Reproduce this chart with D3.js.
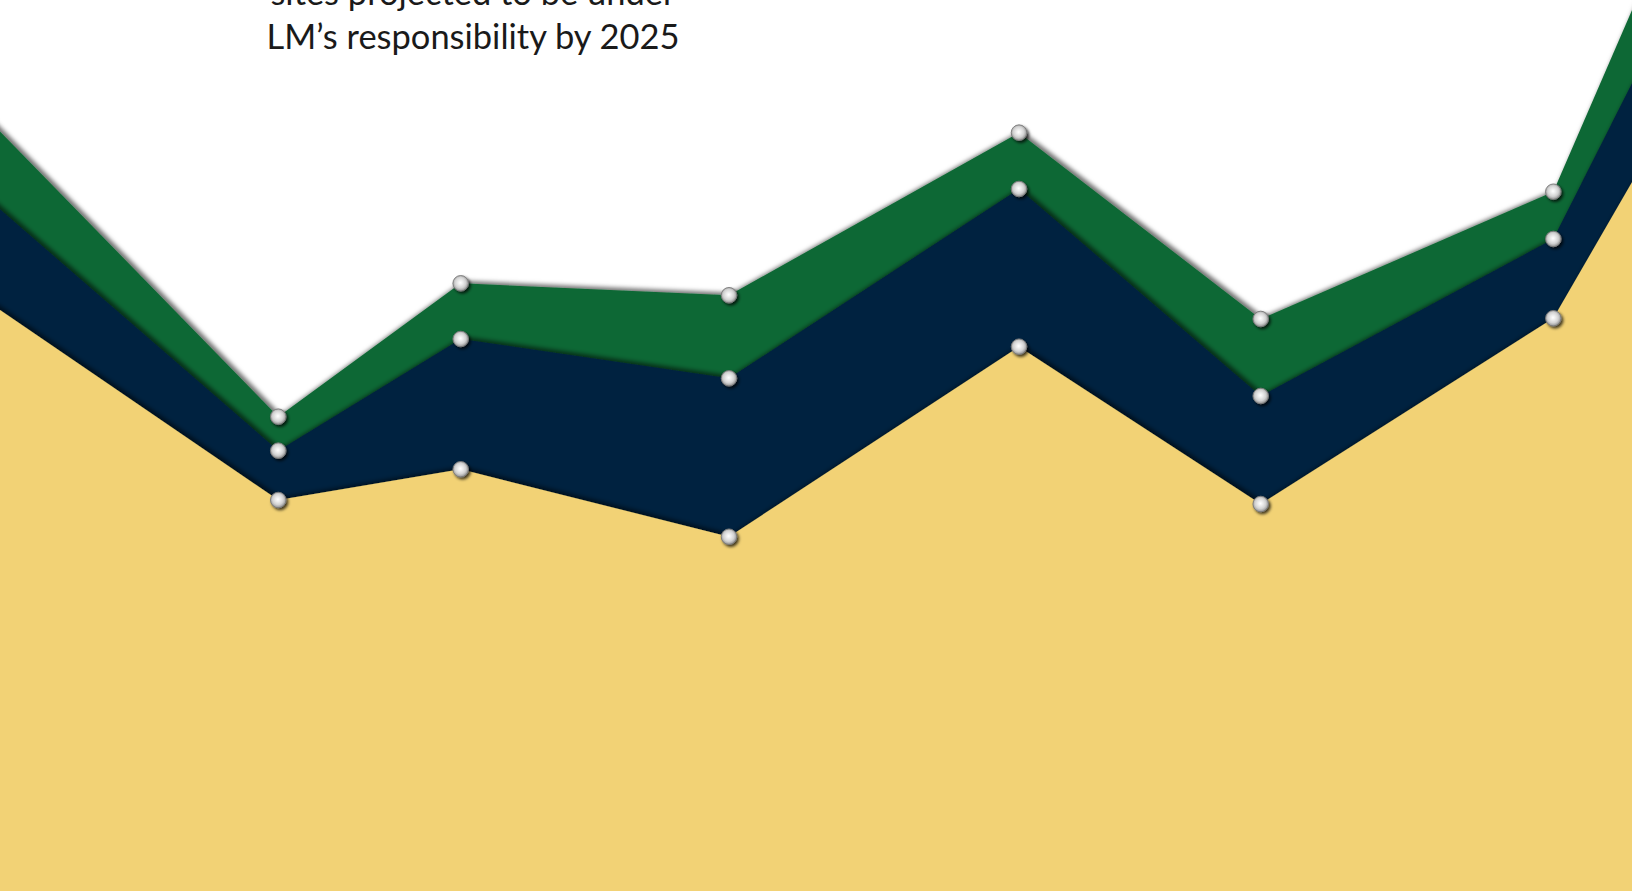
<!DOCTYPE html>
<html>
<head>
<meta charset="utf-8">
<script src="https://cdn.jsdelivr.net/npm/d3@7"></script>
<style>
  html, body { margin: 0; padding: 0; background: #ffffff; overflow: hidden; }
  svg { display: block; }
</style>
</head>
<body>
<svg id="chart"></svg>
<script>
// ---- data (first and last points lie just outside the visible crop) ----
const xPoints      = [-6.1, 17.05, 28.23, 44.67, 62.44, 77.25, 95.18, 104.17];
const baseValues   = [72.84, 43.88, 47.33, 39.76, 61.09, 43.43, 64.28, 92.76]; // gold layer
const middleValues = [13.35, 5.54, 14.62, 17.78, 17.70, 12.13, 8.90, 13.02];   // navy layer
const topValues    = [10.50, 3.81, 6.25, 9.32, 6.32, 8.64, 5.30, 10.72];       // green layer
const seriesKeys   = ["base", "middle", "top"];
const seriesColors = ["#f2d274", "#05223f", "#106735"];
const captionLines = ["sites projected to be under", "LM\u2019s responsibility by 2025"];

const W = 1632, H = 891;
const svg = d3.select("#chart").attr("width", W).attr("height", H);

const table = xPoints.map((x, i) => ({
  x, base: baseValues[i], middle: middleValues[i], top: topValues[i]
}));

const stack = d3.stack().keys(seriesKeys);
const layers = stack(table);

const x = d3.scaleLinear().domain([0, 100]).range([0, W]);
const y = d3.scaleLinear().domain([0, 100]).range([H, 0]);

const defs = svg.append("defs");

const areaShadow = defs.append("filter").attr("id", "areaShadow")
  .attr("x", "-10%").attr("y", "-10%").attr("width", "120%").attr("height", "120%");
areaShadow.append("feDropShadow")
  .attr("dx", 2.5).attr("dy", -2.5).attr("stdDeviation", 2.2)
  .attr("flood-color", "#000").attr("flood-opacity", 0.55);

const dotShadow = defs.append("filter").attr("id", "dotShadow")
  .attr("x", "-50%").attr("y", "-50%").attr("width", "200%").attr("height", "200%");
dotShadow.append("feDropShadow")
  .attr("dx", 1.8).attr("dy", 2).attr("stdDeviation", 1.4)
  .attr("flood-color", "#000").attr("flood-opacity", 0.75);

const grad = defs.append("radialGradient").attr("id", "dotGrad")
  .attr("cx", "48%").attr("cy", "46%").attr("r", "55%");
[["0%", "#ffffff"], ["30%", "#ebebeb"], ["62%", "#d2d2d2"], ["85%", "#a6a6a6"], ["100%", "#7c7c7c"]]
  .forEach(([o, c]) => grad.append("stop").attr("offset", o).attr("stop-color", c));

// Areas: each filled from its top line down to the bottom, drawn top layer first.
const area = d3.area()
  .x(d => x(d.data.x))
  .y0(H + 50)
  .y1(d => y(d[1]));

const order = [2, 1, 0];
svg.append("g").selectAll("path")
  .data(order.map(i => layers[i]))
  .join("path")
  .attr("d", area)
  .attr("fill", d => seriesColors[d.index])
  .attr("filter", "url(#areaShadow)");

// Markers on every layer's top line
const markerData = [];
order.forEach(i => layers[i].forEach(p => markerData.push({ x: p.data.x, v: p[1] })));
svg.append("g").selectAll("circle")
  .data(markerData)
  .join("circle")
  .attr("cx", d => x(d.x))
  .attr("cy", d => y(d.v))
  .attr("r", 7.8)
  .attr("fill", "url(#dotGrad)")
  .attr("stroke", "#7a7a7a")
  .attr("stroke-width", 0.9)
  .attr("filter", "url(#dotShadow)");

// Caption (partially cropped at top, as in the reference)
const caption = svg.append("text")
  .attr("text-anchor", "middle")
  .attr("font-family", "Lato, 'Open Sans', sans-serif")
  .attr("font-size", 34)
  .attr("fill", "#1a1a1a");
caption.selectAll("tspan")
  .data(captionLines)
  .join("tspan")
  .attr("x", 473)
  .attr("y", (d, i) => 5 + i * 44.3)
  .text(d => d);
// fit second line width to the reference (~413px)
const w2 = caption.selectAll("tspan").nodes()[1].getComputedTextLength();
if (w2 > 0) caption.attr("font-size", 34 * 413 / w2);
</script>
</body>
</html>
